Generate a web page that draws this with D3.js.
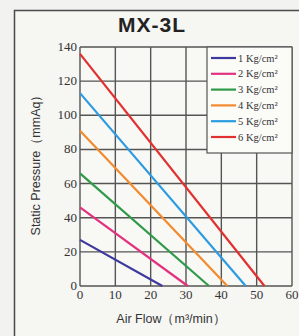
<!DOCTYPE html>
<meta charset="utf-8">
<body style="margin:0;background:#f2f2f0">
<script src="https://cdn.jsdelivr.net/npm/d3@7"></script>
<script>
// series: pressure at zero flow and max flow at zero pressure
var pressures = ["1 Kg/cm²", "2 Kg/cm²", "3 Kg/cm²", "4 Kg/cm²", "5 Kg/cm²", "6 Kg/cm²"];
var startP = [27, 46, 66, 91, 113, 136];
var endFlow = [23.3, 30.5, 36.5, 41.7, 46.9, 52.2];
var colors = ["#3c3a9c", "#e2327f", "#2f9a4a", "#f28a2e", "#2b9be2", "#e2302e"];
var xTicks = [0, 10, 20, 30, 40, 50, 60];
var yTicks = [0, 20, 40, 60, 80, 100, 120, 140];

var W = 299, H = 336;
var svg = d3.select("body").append("svg")
	.attr("width", W).attr("height", H)
	.style("display", "block");

// outer frame
svg.append("rect")
	.attr("x", 14.5).attr("y", 10.5)
	.attr("width", 300).attr("height", 340)
	.attr("fill", "#f6f6f3")
	.attr("stroke", "#4a4a4a").attr("stroke-width", 1.5);

svg.append("text")
	.attr("x", 152).attr("y", 32)
	.attr("text-anchor", "middle")
	.attr("font-family", "Liberation Sans, Arial, sans-serif")
	.attr("font-weight", "bold")
	.attr("font-size", 21)
	.attr("letter-spacing", 1)
	.attr("fill", "#222")
	.text("MX-3L");

var x = d3.scaleLinear().domain([0, 60]).range([80, 292]);
var y = d3.scaleLinear().domain([0, 140]).range([286, 47]);

// plot background
svg.append("rect")
	.attr("x", x(0)).attr("y", y(140))
	.attr("width", x(60) - x(0)).attr("height", y(0) - y(140))
	.attr("fill", "#f8f8f4");

// grid
var grid = svg.append("g").attr("stroke", "#555").attr("stroke-width", 1.4);
grid.selectAll(".vx").data(xTicks).enter().append("line")
	.attr("x1", d => x(d)).attr("x2", d => x(d))
	.attr("y1", y(0)).attr("y2", y(140));
grid.selectAll(".hy").data(yTicks).enter().append("line")
	.attr("y1", d => y(d)).attr("y2", d => y(d))
	.attr("x1", x(0)).attr("x2", x(60));

// tick labels
svg.append("g").selectAll("text").data(yTicks).enter().append("text")
	.attr("x", x(0) - 3).attr("y", d => y(d) + 4)
	.attr("text-anchor", "end")
	.attr("font-family", "Liberation Serif, Times New Roman, serif")
	.attr("font-size", 13).attr("fill", "#333")
	.text(d => d);
svg.append("g").selectAll("text").data(xTicks).enter().append("text")
	.attr("x", d => x(d)).attr("y", y(0) + 13)
	.attr("text-anchor", "middle")
	.attr("font-family", "Liberation Serif, Times New Roman, serif")
	.attr("font-size", 13).attr("fill", "#333")
	.text(d => d);

// axis titles
svg.append("text")
	.attr("transform", "translate(40,162) rotate(-90)")
	.attr("text-anchor", "middle")
	.attr("font-family", "Liberation Sans, Arial, sans-serif")
	.attr("font-size", 12.5).attr("fill", "#333")
	.text("Static Pressure（mmAq）");
svg.append("text")
	.attr("x", 171).attr("y", 323)
	.attr("text-anchor", "middle")
	.attr("font-family", "Liberation Sans, Arial, sans-serif")
	.attr("font-size", 12.5).attr("fill", "#333")
	.text("Air Flow（m³/min）");

// curves
svg.append("g").selectAll("line").data(pressures).enter().append("line")
	.attr("x1", x(0)).attr("y1", (d, i) => y(startP[i]))
	.attr("x2", (d, i) => x(endFlow[i])).attr("y2", y(0))
	.attr("stroke", (d, i) => colors[i]).attr("stroke-width", 2.2);

// legend
var lg = svg.append("g");
lg.append("rect")
	.attr("x", 207).attr("y", y(140))
	.attr("width", x(60) - 207).attr("height", 106)
	.attr("fill", "#fbfbf8").attr("stroke", "#555").attr("stroke-width", 1.2);
var rows = lg.selectAll("g.row").data(pressures).enter().append("g")
	.attr("transform", (d, i) => "translate(211," + (58 + i * 15.8) + ")");
rows.append("line")
	.attr("x1", 0).attr("x2", 25)
	.attr("stroke", (d, i) => colors[i]).attr("stroke-width", 2.2);
rows.append("text")
	.attr("x", 27).attr("y", 3.5)
	.attr("font-family", "Liberation Serif, Times New Roman, serif")
	.attr("font-size", 10.5).attr("fill", "#333")
	.text(d => d);
</script>
</body>
